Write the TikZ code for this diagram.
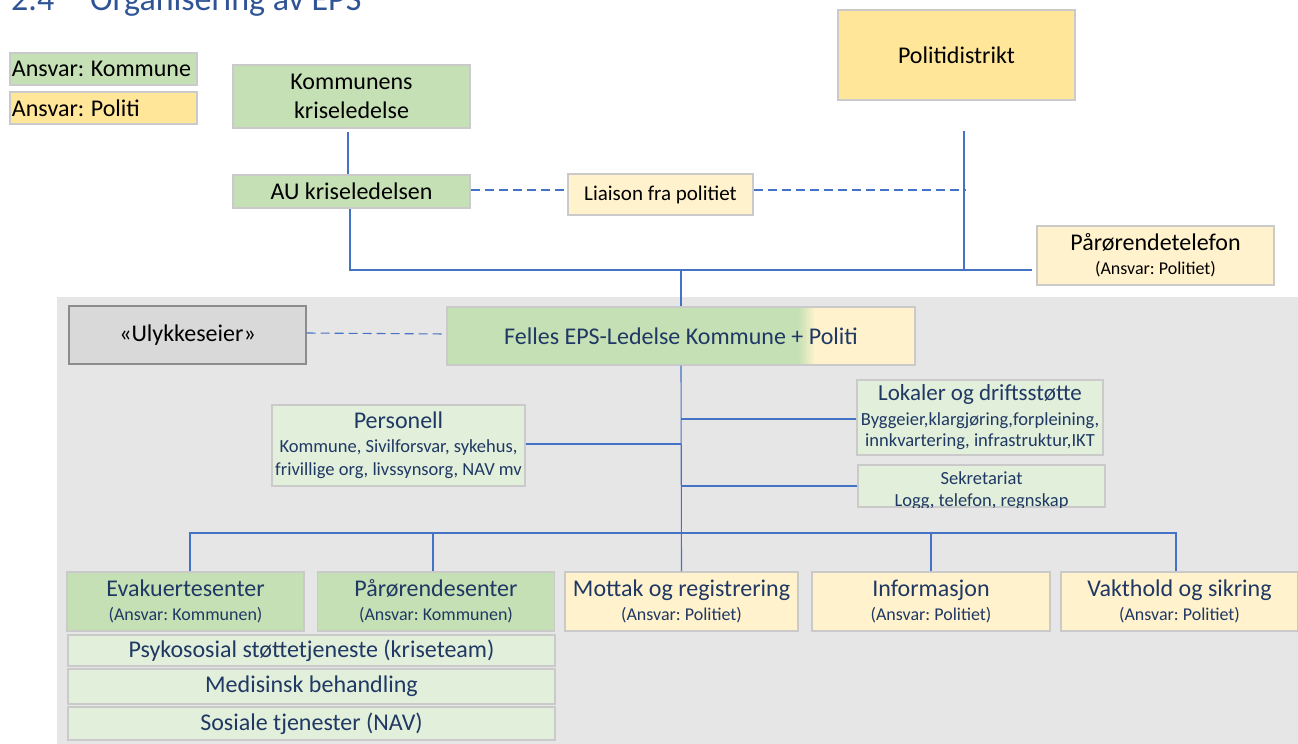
\documentclass[tikz,border=0pt]{standalone}
\usepackage{fontspec}
\setmainfont{Carlito}
\usetikzlibrary{positioning,calc}
\definecolor{KommuneGreen}{HTML}{C5E0B4}
\definecolor{KommuneLight}{HTML}{E2EFDA}
\definecolor{PolitiYellow}{HTML}{FFE699}
\definecolor{PolitiLight}{HTML}{FFF2CC}
\definecolor{PanelGray}{HTML}{E7E6E6}
\definecolor{OwnerGray}{HTML}{D9D9D9}
\definecolor{OwnerEdge}{HTML}{8C8C8C}
\definecolor{BoxEdge}{HTML}{CACACA}
\definecolor{LineBlue}{HTML}{4472C4}
\definecolor{NavyText}{HTML}{1F3864}
\definecolor{HeadingBlue}{HTML}{2F5496}
\frenchspacing

\begin{document}
\begin{tikzpicture}[x=1pt,y=-1pt,
  box/.style={draw=BoxEdge,line width=1.1pt,inner sep=0pt,align=center,
    font=\fontsize{24}{28.5}\selectfont},
  kom/.style={box,fill=KommuneGreen},
  komlight/.style={box,fill=KommuneLight,text=NavyText},
  pol/.style={box,fill=PolitiYellow},
  pollight/.style={box,fill=PolitiLight},
  unit/.style={minimum width=237,minimum height=59,text=NavyText,
    font=\fontsize{18}{24}\selectfont},
  conn/.style={draw=LineBlue,line width=1.1pt},
  liaisonline/.style={conn,dash pattern=on 9pt off 5pt}]
  \useasboundingbox (0,0) rectangle (1298,744);
  % heading, cut by the page edge
  \node[anchor=base west,inner sep=0pt,text=HeadingBlue,font=\fontsize{34}{40}\selectfont]
    (headnum) at (11,10.5) {2.4};
  \node[anchor=base west,inner sep=0pt,text=HeadingBlue,font=\fontsize{34}{40}\selectfont]
    (headtxt) at (90,10.5) {Organisering av EPS};
  % legend
  \node[kom,minimum width=187,minimum height=32,text width=185,align=left]
    (legkom) at (103.5,69) {\hspace*{1pt}Ansvar:\hspace{-1.5pt} Kommune};
  \node[pol,minimum width=187,minimum height=32,text width=185,align=left]
    (legpol) at (103.5,108) {\hspace*{1pt}Ansvar:\hspace{-1.5pt} Politi};
  % upper part
  \node[kom,minimum width=237,minimum height=63] (kriseled) at (351.5,96.5)
    {Kommunens\\kriseledelse};
  \node[kom,minimum width=237,minimum height=33] (au) at (351.5,191.5) {AU kriseledelsen};
  \node[pollight,minimum width=185,minimum height=41,font=\fontsize{21}{24}\selectfont]
    (liaison) at (660.5,194.5) {Liaison fra politiet};
  \node[pol,minimum width=237,minimum height=90] (politidist) at (956.5,55) {Politidistrikt};
  \node[pollight,minimum width=237,minimum height=59,font=\fontsize{18}{24}\selectfont]
    (ptelefon) at (1155.5,255.5)
    {{\fontsize{24}{28}\selectfont Pårørendetelefon}\\(Ansvar: Politiet)};
  % joint EPS panel
  \fill[PanelGray] (57,297) rectangle (1298,744);
  \node[box,fill=OwnerGray,draw=OwnerEdge,minimum width=237,minimum height=58]
    (ulykke) at (187.5,335) {«Ulykkeseier»};
  \node[box,fill=PolitiLight,text=NavyText,minimum width=468,minimum height=58,
    path picture={
      \fill[KommuneGreen] (path picture bounding box.north west)
        rectangle ($(path picture bounding box.south west)+(352,0)$);
      \shade[left color=KommuneGreen,right color=PolitiLight]
        ($(path picture bounding box.north west)+(351,0)$)
        rectangle ($(path picture bounding box.south west)+(368,0)$);
    }] (felles) at (681,336) {Felles EPS-Ledelse Kommune + Politi};
  \node[komlight,minimum width=253,minimum height=81,font=\fontsize{18.5}{22.5}\selectfont]
    (personell) at (398.5,445.5)
    {{\fontsize{24}{28}\selectfont Personell}\\[1.5pt]Kommune, Sivilforsvar, sykehus,\\frivillige org, livssynsorg, NAV mv};
  \node[komlight,minimum width=246,minimum height=75,font=\fontsize{18.5}{21.5}\selectfont]
    (lokaler) at (980,417.5)
    {{\fontsize{23}{28}\selectfont Lokaler og driftsstøtte}\\[3pt]Byggeier,klargjøring,forpleining,\\innkvartering, infrastruktur,IKT};
  \node[komlight,minimum width=247,minimum height=42] (sekr) at (981.5,486) {};
  \begin{scope}
    \clip (sekr.north west) rectangle (sekr.south east);
    \node[anchor=base,inner sep=0pt,text=NavyText,font=\fontsize{18.5}{22}\selectfont]
      (sekrtitle) at (981.5,484) {Sekretariat};
    \node[anchor=base,inner sep=0pt,text=NavyText,font=\fontsize{18.5}{22}\selectfont]
      (sekrsub) at (981.5,506) {Logg, telefon, regnskap};
  \end{scope}
  % units
  \node[kom,unit] (evak) at (185.5,601.5)
    {{\fontsize{24}{28}\selectfont Evakuertesenter}\\(Ansvar: Kommunen)};
  \node[kom,unit] (paasenter) at (436,601.5)
    {{\fontsize{24}{28}\selectfont Pårørendesenter}\\(Ansvar: Kommunen)};
  \node[pollight,unit,minimum width=233] (mottak) at (681.5,601.5)
    {{\fontsize{24}{28}\selectfont Mottak og registrering}\\(Ansvar: Politiet)};
  \node[pollight,unit,minimum width=238] (info) at (931,601.5)
    {{\fontsize{24}{28}\selectfont Informasjon}\\(Ansvar: Politiet)};
  \node[pollight,unit] (vakt) at (1179.5,601.5)
    {{\fontsize{24}{28}\selectfont Vakthold og sikring}\\(Ansvar: Politiet)};
  \node[komlight,minimum width=487,minimum height=31] (psyko) at (311.5,650.5)
    {Psykososial støttetjeneste (kriseteam)};
  \node[komlight,minimum width=487,minimum height=35] (medi) at (311.5,686.5)
    {Medisinsk behandling};
  \node[komlight,minimum width=487,minimum height=33] (sosial) at (311.5,723.5)
    {Sosiale tjenester (NAV)};
  % connectors
  \coordinate (topbus) at (1032,270);
  \coordinate (polline) at (964,131);
  \coordinate (unitbus) at (681,533);
  \draw[conn] ([xshift=-3.5pt,yshift=-3pt]kriseled.south) -- ([xshift=-3.5pt]au.north);
  \draw[conn] ([xshift=-1.5pt]au.south) |- (topbus);
  \draw[conn] (polline) -- (polline |- topbus);
  \draw[conn] (felles.north) -- (felles.north |- topbus);
  \draw[liaisonline] ([yshift=1.5pt]au.east) -- ([yshift=1.5pt]au.east -| liaison.west);
  \draw[liaisonline] ([yshift=1.5pt]au.east -| liaison.east) -- ([xshift=2pt,yshift=1.5pt]au.east -| polline);
  \draw[liaisonline] ([yshift=2pt]ulykke.east) -- ([yshift=2pt]felles.west);
  \draw[conn] (felles.south) -- (mottak.north);
  \draw[conn] ([yshift=-1.5pt]lokaler.west) -- ([yshift=-1.5pt]lokaler.west -| felles.south);
  \draw[conn] ([yshift=1.5pt]personell.east) -- ([yshift=1.5pt]personell.east -| felles.south);
  \draw[conn] (sekr.west) -- (sekr.west -| felles.south);
  \draw[conn] ([xshift=4.5pt]evak.north) |- (unitbus) -| ([xshift=-3.5pt]vakt.north);
  \draw[conn] ([xshift=-3pt]paasenter.north) -- ([xshift=-3pt]paasenter.north |- unitbus);
  \draw[conn] (info.north) -- (info.north |- unitbus);
\end{tikzpicture}
\end{document}
